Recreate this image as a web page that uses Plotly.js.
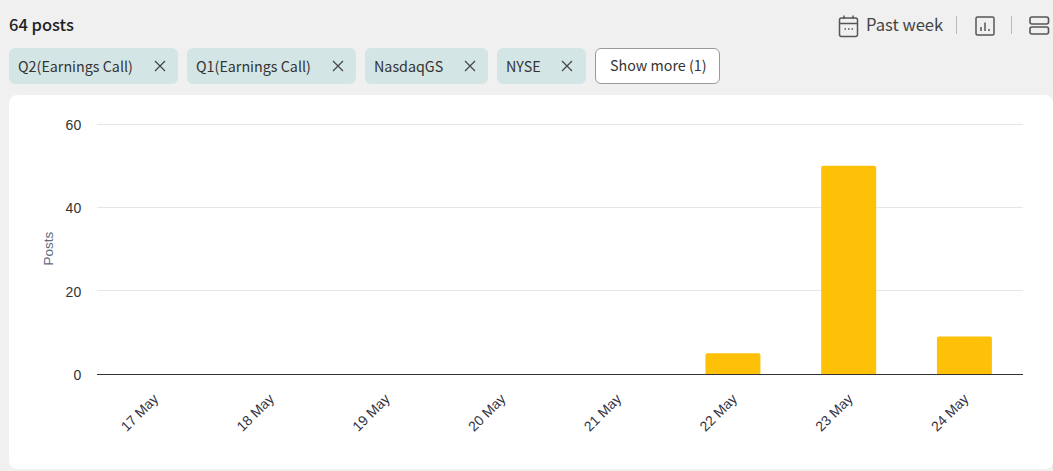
<!DOCTYPE html>
<html><head><meta charset="utf-8">
<script src="https://cdn.plot.ly/plotly-3.0.1.min.js"></script>
<style>
html,body{margin:0;padding:0;width:1053px;height:471px;overflow:hidden;background:#f0f0f0;font-family:"Noto Sans CJK SC","Noto Sans",sans-serif;}
.a{position:absolute;white-space:nowrap;}
.chip{position:absolute;top:48px;height:36px;border-radius:6px;background:#d3e5e4;color:#333;font-size:14.300px;line-height:35px;box-sizing:border-box;padding-left:9px;}
.chip svg{position:absolute;top:12px;width:12px;height:12px;}
#card{position:absolute;left:9px;top:95px;width:1044px;height:374px;background:#fff;border-radius:8px;}
#chart{position:absolute;left:0;top:0;width:1053px;height:471px;}
</style></head><body>
<div class="a" style="left:9px;top:12px;font-size:16.500px;line-height:25px;color:#1f1f1f;font-weight:500">64 posts</div>
<svg class="a" style="left:838px;top:14px" width="22" height="24" viewBox="0 0 22 24" fill="none" stroke="#555" stroke-width="1.5"><rect x="1.5" y="4" width="18" height="18.5" rx="2"/><path d="M1.5 9.5H19.5M6 1.5V5M15 1.5V5"/><path d="M6.5 15H8M10 15H11.5M13.500 15H15" stroke-width="1.4"/></svg>
<div class="a" style="left:866px;top:12px;font-size:16.600px;line-height:25px;color:#444">Past week</div>
<div class="a" style="left:956px;top:16px;width:1px;height:18px;background:#bbb"></div>
<svg class="a" style="left:975px;top:16px" width="20" height="20" viewBox="0 0 20 20" fill="none" stroke="#555" stroke-width="1.5"><rect x="1" y="1" width="18" height="18" rx="1.5"/><path d="M6 15V11M10 15V6.500M14 15V13"/></svg>
<div class="a" style="left:1011px;top:16px;width:1px;height:18px;background:#bbb"></div>
<svg class="a" style="left:1029px;top:16px" width="21" height="19" viewBox="0 0 21 19" fill="none" stroke="#555" stroke-width="1.6"><rect x="1" y="1" width="18.500" height="7" rx="2"/><rect x="1" y="11" width="18.500" height="7" rx="2"/></svg>

<div class="chip" style="left:9px;width:169px">Q2(Earnings Call)<svg style="left:145px" viewBox="0 0 12 12"><path d="M1 1L11 11M11 1L1 11" stroke="#444" stroke-width="1.200"/></svg></div>
<div class="chip" style="left:187px;width:169px">Q1(Earnings Call)<svg style="left:145px" viewBox="0 0 12 12"><path d="M1 1L11 11M11 1L1 11" stroke="#444" stroke-width="1.200"/></svg></div>
<div class="chip" style="left:365px;width:123px">NasdaqGS<svg style="left:99px" viewBox="0 0 12 12"><path d="M1 1L11 11M11 1L1 11" stroke="#444" stroke-width="1.200"/></svg></div>
<div class="chip" style="left:497px;width:89px">NYSE<svg style="left:64px" viewBox="0 0 12 12"><path d="M1 1L11 11M11 1L1 11" stroke="#444" stroke-width="1.200"/></svg></div>
<div class="chip" style="left:595px;width:125px;background:#fff;border:1px solid #9a9a9a;padding-left:14px;line-height:32px;color:#333">Show more (1)</div>

<div id="card"></div>
<div id="chart"></div>
<script>
const categories = ["17 May","18 May","19 May","20 May","21 May","22 May","23 May","24 May"];
const posts = [0,0,0,0,0,5,50,9];
const yTicks = [0,20,40,60];
const barColor = "#ffc107";

Plotly.newPlot("chart",[{
  type:"bar", x:categories, y:posts,
  marker:{color:barColor, cornerradius:2, line:{width:0}},
  width:0.475, hoverinfo:"x+y"
}],{
  width:1053, height:471,
  margin:{l:97,r:30,t:122.750,b:96.5,pad:0},
  paper_bgcolor:"rgba(0,0,0,0)", plot_bgcolor:"rgba(0,0,0,0)",
  showlegend:false,
  font:{family:"Liberation Sans, Arial, sans-serif", color:"#333333", size:14},
  xaxis:{type:"category", categoryorder:"array", categoryarray:categories, tickangle:-45, range:[-0.494,7.506],
    showgrid:false, showline:true, linecolor:"#333333", linewidth:1, zeroline:false,
    ticks:"outside", ticklen:10, tickcolor:"rgba(0,0,0,0)",
    tickfont:{size:14,color:"#333344"}, fixedrange:true},
  yaxis:{range:[0,60.3], tickvals:yTicks, ticktext:yTicks.map(String), showgrid:true, gridcolor:"#e6e6e6", gridwidth:1,
    zeroline:false, ticks:"outside", ticklen:12, tickcolor:"rgba(0,0,0,0)", showline:false,
    ticklabelshift:1,
    tickfont:{size:14,color:"#333333"},
    title:{text:"Posts", standoff:8, font:{size:13.500,color:"#5f6b7f"}}, fixedrange:true}
},{displayModeBar:false,staticPlot:true});
</script>
</body></html>
